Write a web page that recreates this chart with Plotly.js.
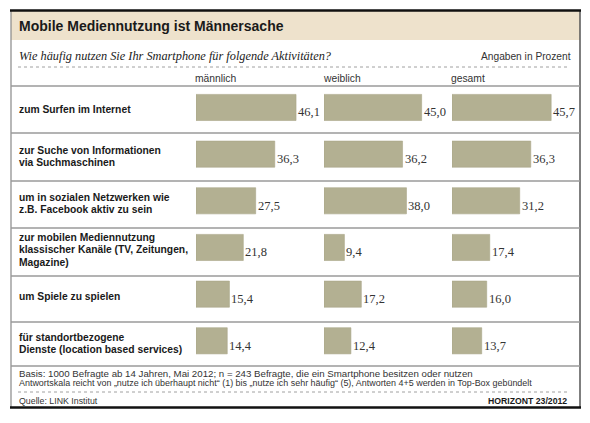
<!DOCTYPE html>
<html>
<head>
<meta charset="utf-8">
<script src="https://cdn.plot.ly/plotly-3.0.1.min.js"></script>
<style>html,body{margin:0;padding:0;background:#fff;}#chart{width:590px;height:423px;}</style>
</head>
<body>
<div id="chart"></div>
<script>
const categories = [
  "zum Surfen im Internet",
  "zur Suche von Informationen<br>via Suchmaschinen",
  "um in sozialen Netzwerken wie<br>z.B. Facebook aktiv zu sein",
  "zur mobilen Mediennutzung<br>klassischer Kanäle (TV, Zeitungen,<br>Magazine)",
  "um Spiele zu spielen",
  "für standortbezogene<br>Dienste (location based services)"
];
const seriesNames = ["männlich", "weiblich", "gesamt"];
const maennlich = [46.1, 36.3, 27.5, 21.8, 15.4, 14.4];
const weiblich  = [45.0, 36.2, 38.0, 9.4, 17.2, 12.4];
const gesamt    = [45.7, 36.3, 31.2, 17.4, 16.0, 13.7];
const seriesValues = [maennlich, weiblich, gesamt];

const W = 590, H = 423;
const px = x => x / W;
const py = y => 1 - y / H;

const SANS = '"Liberation Sans", Arial, sans-serif';
const SERIF = '"Liberation Serif", "DejaVu Serif", serif';
const BAR = '#b3b092';

const colStart = [196, 324, 452];
const colW = 128;
const scale = 2.17; // px per percent
const xMax = colW / scale;

const axNames = ['x', 'x2', 'x3'];
const traces = seriesValues.map((vals, k) => ({
  type: 'bar',
  orientation: 'h',
  name: seriesNames[k],
  y: categories,
  x: vals,
  xaxis: axNames[k],
  yaxis: 'y',
  width: 0.56,
  offset: -0.32,
  marker: {color: BAR, line: {color: '#a9a688', width: 0.6}},
  hoverinfo: 'skip',
  showlegend: false
}));

const annotations = [];
const txt = (x, y, text, opts) => Object.assign({
  xref: 'paper', yref: 'paper', x: px(x), y: py(y), text: text,
  showarrow: false, xanchor: 'left', yanchor: 'middle',
  font: {family: SANS, size: 11, color: '#222'}
}, opts || {});

// title & subtitle
annotations.push(txt(17, 26, 'Mobile Mediennutzung ist Männersache', {font: {family: SANS, size: 14.0, color: '#1a1a1a', weight: 'bold'}}));
annotations.push(txt(17, 56, 'Wie häufig nutzen Sie Ihr Smartphone für folgende Aktivitäten?', {font: {family: SERIF, size: 12.3, color: '#222', style: 'italic'}}));
annotations.push(txt(573, 57, 'Angaben in Prozent', {xanchor: 'right', font: {family: SANS, size: 10.2, color: '#333'}}));

// column headers
seriesNames.forEach((n, k) => {
  annotations.push(txt(colStart[k] - 3, 78, n, {font: {family: SANS, size: 10.3, color: '#333'}}));
});

// row labels (one annotation per line for tighter line spacing)
const LINE_H = 12.2;
categories.forEach((c, i) => {
  const lines = c.split('<br>');
  const n = lines.length;
  lines.forEach((t, j) => {
    annotations.push({
      xref: 'paper', yref: 'y', x: px(17), y: i, text: t, showarrow: false,
      xanchor: 'left', yanchor: 'middle', align: 'left',
      yshift: ((n - 1) / 2 - j) * LINE_H - 0.5,
      font: {family: SANS, size: 10.3, color: '#1a1a1a', weight: 'bold'}
    });
  });
});

// value labels
seriesValues.forEach((vals, k) => {
  vals.forEach((v, i) => {
    annotations.push({
      xref: axNames[k], yref: 'y', x: v, y: i,
      text: v.toFixed(1).replace('.', ','), showarrow: false,
      xanchor: 'left', yanchor: 'middle', xshift: 0, yshift: -3,
      font: {family: SERIF, size: 12.5, color: '#333'}
    });
  });
});

// footnotes
annotations.push(txt(17, 373, 'Basis: 1000 Befragte ab 14 Jahren, Mai 2012; n = 243 Befragte, die ein Smartphone besitzen oder nutzen', {font: {family: SANS, size: 9.7, color: '#333'}}));
annotations.push(txt(17, 382.5, 'Antwortskala reicht von „nutze ich überhaupt nicht“ (1) bis „nutze ich sehr häufig“ (5), Antworten 4+5 werden in Top-Box gebündelt', {font: {family: SANS, size: 8.95, color: '#333'}}));
annotations.push(txt(17, 401, 'Quelle: LINK Institut', {font: {family: SANS, size: 8.8, color: '#333'}}));
annotations.push(txt(569, 401, 'HORIZONT 23/2012', {xanchor: 'right', font: {family: SANS, size: 8.7, color: '#1a1a1a', weight: 'bold'}}));

// shapes
const shapes = [];
const line = (x0, y0, x1, y1, color, width, dash) => ({
  type: 'line', xref: 'paper', yref: 'paper', x0: px(x0), y0: py(y0), x1: px(x1), y1: py(y1),
  line: {color: color, width: width, dash: dash || 'solid'}, layer: 'above'
});
shapes.push({type: 'rect', xref: 'paper', yref: 'paper', x0: px(11), x1: px(580), y0: py(11), y1: py(40), fillcolor: '#eee2cc', line: {width: 0}, layer: 'below'});
shapes.push(line(11, 11, 11, 407, '#888', 1.2));
shapes.push(line(580, 11, 580, 407, '#555', 1.5));
shapes.push(line(10, 10.5, 581, 10.5, '#111', 2.5));
shapes.push(line(10, 407.5, 581, 407.5, '#111', 2.5));
shapes.push(line(18, 67, 568, 67, '#888', 0.8, 'dot'));
shapes.push(line(18, 392, 568, 392, '#888', 0.8, 'dot'));
[86, 133, 181, 228, 276, 322, 366].forEach(y => shapes.push(line(11, y, 580, y, '#9a9a9a', 1.5)));

const hidden = {visible: false, fixedrange: true};
const layout = {
  width: W, height: H,
  margin: {l: 0, r: 0, t: 0, b: 0, pad: 0},
  paper_bgcolor: '#fff', plot_bgcolor: 'rgba(0,0,0,0)',
  showlegend: false,
  bargap: 0,
  xaxis:  Object.assign({domain: [px(colStart[0]), px(colStart[0] + colW)], range: [0, xMax], anchor: 'y'}, hidden),
  xaxis2: Object.assign({domain: [px(colStart[1]), px(colStart[1] + colW)], range: [0, xMax], anchor: 'y'}, hidden),
  xaxis3: Object.assign({domain: [px(colStart[2]), px(colStart[2] + colW)], range: [0, xMax], anchor: 'y'}, hidden),
  yaxis: Object.assign({domain: [py(366), py(86)], type: 'category', autorange: 'reversed', anchor: 'x'}, hidden),
  annotations: annotations,
  shapes: shapes
};

Plotly.newPlot('chart', traces, layout, {displayModeBar: false, staticPlot: true});
</script>
</body>
</html>
